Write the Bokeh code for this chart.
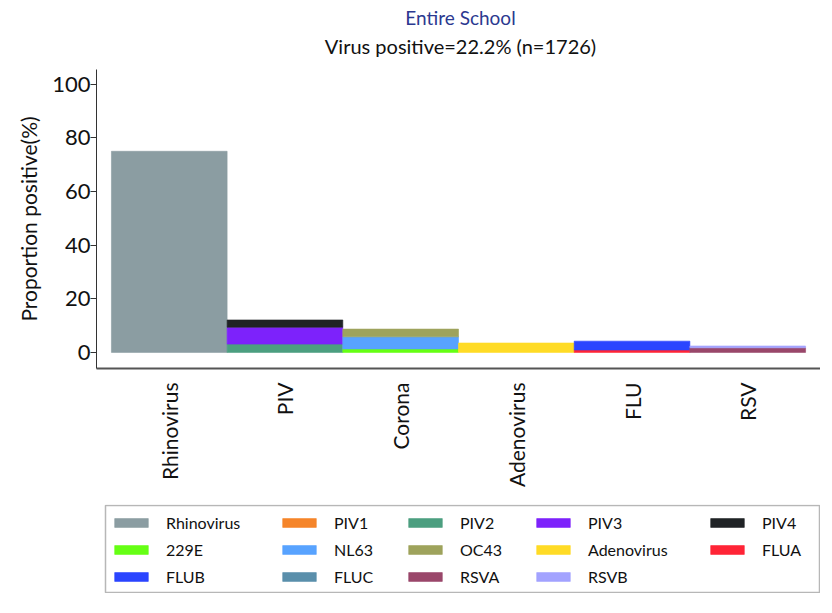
import math
from bokeh.plotting import figure
from bokeh.layouts import column
from bokeh.models import (FactorRange, Range1d, Legend, LegendItem, Label, FixedTicker,
                          BoxAnnotation)
from bokeh.embed import file_html
from bokeh.resources import INLINE

categories = ["Rhinovirus", "PIV", "Corona", "Adenovirus", "FLU", "RSV"]
series_names = ["Rhinovirus", "PIV1", "PIV2", "PIV3", "PIV4", "229E", "NL63", "OC43",
                "Adenovirus", "FLUA", "FLUB", "FLUC", "RSVA", "RSVB"]
series_group = ["Rhinovirus", "PIV", "PIV", "PIV", "PIV", "Corona", "Corona", "Corona",
                "Adenovirus", "FLU", "FLU", "FLU", "RSV", "RSV"]
series_values = [75.0, 0.0, 3.1, 6.3, 2.7, 1.3, 4.5, 2.9,
                 3.5, 0.9, 3.3, 0.0, 1.7, 0.7]
series_colors = ["#8b9da2", "#f5852a", "#4c9f80", "#7d22fb", "#202326", "#66ff14", "#58a3ff", "#9ea35c",
                 "#ffdb26", "#ff2436", "#2b45ff", "#5a8fab", "#9a476a", "#a3a3ff"]
y_ticks = [0, 20, 40, 60, 80, 100]
title_text = "Entire School"
subtitle_text = "Virus positive=22.2% (n=1726)"

FONT = "Lato"
LEFT, FW = 96, 724

# ---- title strip ----
TH = 69
tf = figure(frame_width=FW, frame_height=TH, output_backend="svg", toolbar_location=None,
            x_axis_location=None, y_axis_location=None,
            min_border_left=LEFT, min_border_right=0, min_border_top=0, min_border_bottom=0)
tf.outline_line_color = None
tf.grid.grid_line_color = None
tf.add_layout(Label(x=FW / 2 + 2, y=TH - 17, x_units="screen", y_units="screen", text=title_text,
                    text_align="center", text_baseline="middle", text_font=FONT,
                    text_font_size="19px", text_color="#2b3990"))
tf.add_layout(Label(x=FW / 2 + 2, y=TH - 45, x_units="screen", y_units="screen", text=subtitle_text,
                    text_align="center", text_baseline="middle", text_font=FONT,
                    text_font_size="20px", text_color="#111111"))

# ---- main chart ----
p = figure(x_range=FactorRange(*categories, range_padding=0.043, range_padding_units="percent"),
           y_range=Range1d(-6, 105.5),
           frame_width=FW, frame_height=299,
           output_backend="svg", toolbar_location=None,
           min_border_left=LEFT, min_border_right=0, min_border_top=0, min_border_bottom=136)

running = {c: 0.0 for c in categories}
for name, grp, val, col in zip(series_names, series_group, series_values, series_colors):
    bottom = running[grp]
    top = bottom + val
    running[grp] = top
    p.vbar(x=[grp], bottom=[bottom], top=[top], width=1.0,
           fill_color=col, line_color=col, line_alpha=0.6 if val > 0 else 0.0, line_width=1)

p.outline_line_color = None
p.grid.grid_line_color = None

p.yaxis.ticker = FixedTicker(ticks=y_ticks)
p.yaxis.axis_label = "Proportion positive(%)"
p.yaxis.axis_label_text_font = FONT
p.yaxis.axis_label_text_font_style = "normal"
p.yaxis.axis_label_text_font_size = "21px"
p.yaxis.axis_label_text_color = "#111111"
p.yaxis.axis_label_standoff = 8
p.yaxis.major_label_text_font = FONT
p.yaxis.major_label_text_font_size = "22px"
p.yaxis.major_label_text_color = "#111111"
p.yaxis.major_label_standoff = 0
p.yaxis.minor_tick_line_color = None
p.yaxis.major_tick_out = 6
p.yaxis.major_tick_in = 0
p.yaxis.axis_line_color = "#333333"
p.yaxis.major_tick_line_color = "#333333"

p.xaxis.major_label_orientation = math.pi / 2
p.xaxis.major_label_text_font = FONT
p.xaxis.major_label_text_font_size = "21px"
p.xaxis.major_label_text_color = "#111111"
p.xaxis.major_tick_line_color = None
p.xaxis.minor_tick_line_color = None
p.xaxis.axis_line_color = "#555555"
p.xaxis.axis_line_width = 2
p.xaxis.major_label_standoff = 8

# ---- legend strip ----
LG_H = 89
lg = figure(frame_width=FW, frame_height=LG_H, output_backend="svg", toolbar_location=None,
            x_range=Range1d(0, FW), y_range=Range1d(0, LG_H),
            x_axis_location=None, y_axis_location=None,
            min_border_left=LEFT, min_border_right=0, min_border_top=0, min_border_bottom=0)
lg.outline_line_color = None
lg.grid.grid_line_color = None
lg.add_layout(BoxAnnotation(left=9, right=FW - 1, bottom=1, top=LG_H - 1,
                            fill_alpha=0.0, line_color="#111111", line_width=1.5))
items = []
for i, (name, val, col) in enumerate(zip(series_names, series_values, series_colors)):
    r = lg.vbar(x=[i], top=[val], width=1.0, fill_color=col, line_color=col,
                line_alpha=0.6, visible=False)
    items.append(LegendItem(label=name, renderers=[r]))

NCOLS = 5
col_x = [14, 182, 308, 436, 610]
ROW_H, ROW_GAP, TOP_GAP = 20, 7, 8
for c in range(NCOLS):
    col_items = items[c::NCOLS]
    n = len(col_items)
    y_bottom = LG_H - TOP_GAP - (n * ROW_H + (n - 1) * ROW_GAP)
    lgd = Legend(items=col_items, orientation="vertical", location=(col_x[c], y_bottom),
                 glyph_width=42, glyph_height=11, label_standoff=14, label_height=ROW_H,
                 label_text_font=FONT, label_text_font_size="16px", label_text_color="#111111",
                 border_line_color=None, background_fill_alpha=0.0,
                 spacing=ROW_GAP, padding=0, margin=0)
    lg.add_layout(lgd, "center")

layout = column(tf, p, lg, spacing=0)
open("out.html", "w").write(file_html(layout, INLINE))
